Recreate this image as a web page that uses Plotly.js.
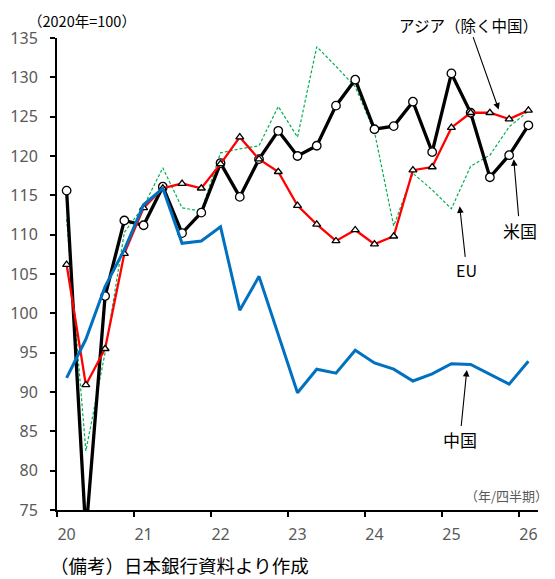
<!DOCTYPE html>
<html>
<head>
<meta charset="utf-8">
<script src="https://cdn.plot.ly/plotly-3.0.1.min.js"></script>
<style>
  html, body { margin: 0; padding: 0; background: #fff; }
  #chart { width: 555px; height: 579px; }
</style>
</head>
<body>
<div id="chart"></div>
<script>
// Quarters 2020Q1 .. 2026Q1 (index 0..24)
const quarterIndex = [0,1,2,3,4,5,6,7,8,9,10,11,12,13,14,15,16,17,18,19,20,21,22,23,24];
const yearTickPos = [0,4,8,12,16,20,24];
const yearTickText = ['20','21','22','23','24','25','26'];
const yearBoundaries = [-0.5,3.5,7.5,11.5,15.5,19.5,23.5];

// 米国
const usValues = [115.6,72.0,102.2,111.8,111.2,116.1,110.2,112.8,119.1,114.8,119.6,123.2,120.0,121.3,126.4,129.7,123.4,123.8,126.9,120.5,130.5,125.5,117.3,120.1,123.9];
// アジア（除く中国）
const asiaValues = [106.2,90.9,95.5,107.6,113.4,115.9,116.5,115.9,119.0,122.4,119.6,118.0,113.7,111.3,109.2,110.6,108.8,109.8,118.2,118.6,123.6,125.5,125.5,124.7,125.8];
// EU
const euValues = [112.0,82.5,95.0,110.3,113.6,118.5,113.4,113.0,120.4,120.9,121.3,126.3,122.4,133.9,131.4,128.8,123.1,111.1,117.8,115.7,113.3,118.7,120.1,123.7,125.7];
// 中国
const chinaValues = [91.8,96.7,103.4,108.1,113.8,115.9,108.9,109.2,111.0,100.4,104.7,97.2,89.9,92.9,92.4,95.3,93.7,92.9,91.4,92.3,93.6,93.5,92.2,91.0,93.9];

const jp = '"Noto Sans CJK JP", "Noto Sans", sans-serif';
const num = '"Noto Sans", "Liberation Sans", sans-serif';

const traces = [
  { x: quarterIndex, y: euValues, type: 'scatter', mode: 'lines', name: 'EU',
    line: { color: '#00B050', width: 1.2, dash: '3px,2px' } },
  { x: quarterIndex, y: usValues, type: 'scatter', mode: 'lines+markers', name: '米国',
    line: { color: '#000000', width: 3.3 },
    marker: { symbol: 'circle', size: 8.5, color: '#FFFFFF', line: { color: '#000000', width: 1.3 } } },
  { x: quarterIndex, y: asiaValues, type: 'scatter', mode: 'lines+markers', name: 'アジア（除く中国）',
    line: { color: '#FF0000', width: 2.3 },
    marker: { symbol: 'triangle-up', size: 7, color: '#FFFFFF', line: { color: '#000000', width: 1.3 } } },
  { x: quarterIndex, y: chinaValues, type: 'scatter', mode: 'lines', name: '中国',
    line: { color: '#0070C0', width: 3 } }
];

const PL = 57, PR = 17, PT = 38, PB = 69, W = 555, H = 579;
const pw = W - PL - PR, ph = H - PT - PB;
const px = v => (v - PL) / pw;
const py = v => (H - PB - v) / ph;

const annotations = [
  { xref: 'paper', yref: 'paper', x: px(26), y: py(20), xanchor: 'left', yanchor: 'middle',
    text: '（2020年=100）', showarrow: false, font: { family: jp, size: 14.5, color: '#000' } },
  { xref: 'paper', yref: 'paper', x: px(550), y: py(495), xanchor: 'right', yanchor: 'middle',
    text: '（年/四半期）', showarrow: false, font: { family: jp, size: 13, color: '#595959' } },
  { xref: 'paper', yref: 'paper', x: px(48), y: py(565), xanchor: 'left', yanchor: 'middle',
    text: '（備考）日本銀行資料より作成', showarrow: false, font: { family: jp, size: 18.5, color: '#000' } },
  { x: 22.46, y: 125.9, xref: 'x', yref: 'y', text: 'アジア（除く中国）', showarrow: true,
    ax: -30, ay: -85, arrowhead: 2, arrowsize: 1.2, arrowwidth: 1.1, arrowcolor: '#000',
    font: { family: jp, size: 15.5, color: '#000' } },
  { x: 23.24, y: 119.6, xref: 'x', yref: 'y', text: '米国', showarrow: true,
    ax: 6, ay: 71, arrowhead: 2, arrowsize: 1.2, arrowwidth: 1.1, arrowcolor: '#000',
    font: { family: jp, size: 17, color: '#000' } },
  { x: 20.43, y: 113.6, xref: 'x', yref: 'y', text: 'EU', showarrow: true,
    ax: 7, ay: 64, arrowhead: 2, arrowsize: 1.2, arrowwidth: 1.1, arrowcolor: '#000',
    font: { family: jp, size: 16, color: '#000' } },
  { x: 20.8, y: 92.8, xref: 'x', yref: 'y', text: '中国', showarrow: true,
    ax: -7, ay: 70, arrowhead: 2, arrowsize: 1.2, arrowwidth: 1.1, arrowcolor: '#000',
    font: { family: jp, size: 17, color: '#000' } }
];

const layout = {
  width: W, height: H,
  margin: { l: PL, r: PR, t: PT, b: PB, pad: 0 },
  paper_bgcolor: '#fff', plot_bgcolor: '#fff',
  showlegend: false,
  xaxis: {
    range: [-0.5, 24.5], tickmode: 'array', tickvals: yearTickPos, ticktext: yearTickText,
    ticks: '', showgrid: false, zeroline: false,
    showline: true, linecolor: '#000', linewidth: 2,
    tickfont: { family: num, size: 16, color: '#595959' }, ticklabelstandoff: 9
  },
  xaxis2: {
    range: [-0.5, 24.5], overlaying: 'x', anchor: 'y', side: 'bottom',
    tickmode: 'array', tickvals: yearBoundaries, showticklabels: false,
    ticks: 'outside', ticklen: 6, tickwidth: 2, tickcolor: '#000',
    showgrid: false, zeroline: false, showline: false
  },
  yaxis: {
    range: [75, 135], tickmode: 'linear', tick0: 75, dtick: 5,
    ticks: 'outside', ticklen: 5, tickwidth: 2, tickcolor: '#000',
    showgrid: false, zeroline: false, showline: true, linecolor: '#000', linewidth: 2,
    tickfont: { family: num, size: 16, color: '#595959' }, ticklabelstandoff: 9
  },
  annotations: annotations
};

// invisible helper trace so the boundary-tick axis (xaxis2) is drawn
traces.push({ x: [0], y: [100], xaxis: 'x2', yaxis: 'y', type: 'scatter', mode: 'markers',
  marker: { opacity: 0 }, hoverinfo: 'skip', showlegend: false });

Plotly.newPlot('chart', traces, layout, { staticPlot: true });
</script>
</body>
</html>
